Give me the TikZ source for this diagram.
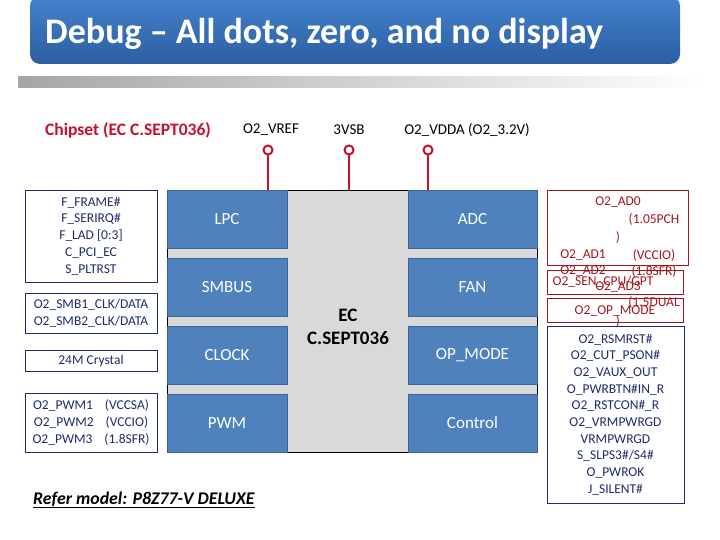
\documentclass[tikz,border=0pt]{standalone}
\usepackage{fontspec}
\setmainfont{Carlito}
\usetikzlibrary{positioning}
\definecolor{bannertop}{HTML}{4382CC}
\definecolor{bannerbot}{HTML}{2C5EA2}
\definecolor{blockblue}{HTML}{4F81BD}
\definecolor{blockedge}{HTML}{3B6396}
\definecolor{chipgray}{HTML}{D9D9D9}
\definecolor{pinred}{HTML}{C8102E}
\definecolor{sigred}{HTML}{A3161C}
\definecolor{navy}{HTML}{1F2A6E}

\begin{document}
\begin{tikzpicture}[
  x=1pt,y=-1pt,
  blk/.style={draw=blockedge,fill=blockblue,text=white,minimum height=58pt,inner sep=0pt,font=\fontsize{17}{20}\selectfont},
  sigbox/.style={draw=navy,text=navy,align=center,inner sep=0pt,minimum width=132pt,font=\fontsize{13.5}{16.7}\selectfont},
  redtxt/.style={text=sigred,inner sep=0pt,font=\fontsize{13.5}{16.7}\selectfont},
  redbox/.style={draw=sigred,inner sep=0pt,minimum width=136pt,minimum height=24pt},
  rail/.style={font=\fontsize{15}{18}\selectfont,inner sep=0pt},
  pin/.style={circle,draw=pinred,line width=2pt,fill=white,minimum size=9pt,inner sep=0pt}
]
  \useasboundingbox (0,0) rectangle (720,540);
  \shade[top color=bannertop,bottom color=bannerbot,rounded corners=10pt] (30,-4) rectangle (680,64);
  \node[anchor=west,text=white,font=\fontsize{36}{40}\selectfont\bfseries,inner sep=0pt] (title) at (45,34) {Debug -- All dots, zero, and no display};
  \shade[left color=gray!70,right color=white] (18,77) rectangle (705,88);

  \node[anchor=west,text=pinred,font=\fontsize{17.5}{20}\selectfont\bfseries,inner sep=0pt] (chipset) at (45,130) {Chipset (EC C.SEPT036)};
  \node[rail] (vrefname) at (271,130) {O2\_VREF};
  \node[rail] (vsbname) at (349,130) {3VSB};
  \node[rail] (vddaname) at (467,130) {O2\_VDDA (O2\_3.2V)};

  \node[draw=black,fill=chipgray,minimum width=370pt,minimum height=262pt,inner sep=0pt] (chip) at (352,321) {};
  \node[align=center,font=\fontsize{19}{23}\selectfont\bfseries] (ecname) at (348,327) {EC\\C.SEPT036};

  \node[blk,minimum width=120pt] (lpc) at (227,219) {LPC};
  \node[blk,minimum width=120pt] (smbus) at (227,287) {SMBUS};
  \node[blk,minimum width=120pt] (clock) at (227,355) {CLOCK};
  \node[blk,minimum width=120pt] (pwm) at (227,423) {PWM};
  \node[blk,minimum width=129pt] (adc) at (472.5,219) {ADC};
  \node[blk,minimum width=129pt] (fan) at (472.5,287) {FAN};
  \node[blk,minimum width=129pt] (opmode) at (472.5,355) {OP\_MODE};
  \node[blk,minimum width=129pt] (control) at (472.5,423) {Control};

  \node[pin] (vref) at (268,150) {};
  \node[pin] (vsb) at (349,150) {};
  \node[pin] (vdda) at (428,150) {};
  \draw[pinred,line width=1.5pt] (vref.south) -- (vref.south |- chip.north);
  \draw[pinred,line width=1.5pt] (vsb.south) -- (vsb.south |- chip.north);
  \draw[pinred,line width=1.5pt] (vdda.south) -- (vdda.south |- chip.north);

  \node[sigbox,minimum height=92pt] (lpcsig) at (91,236) {F\_FRAME\#\\F\_SERIRQ\#\\F\_LAD [0:3]\\C\_PCI\_EC\\S\_PLTRST};
  \node[sigbox,minimum height=40pt] (smbsig) at (91,313) {O2\_SMB1\_CLK/DATA\\O2\_SMB2\_CLK/DATA};
  \node[sigbox,minimum height=21pt] (xtal) at (91,361) {24M Crystal};
  \node[sigbox,minimum height=59pt] (pwmsig) at (91,422.5) {O2\_PWM1\hspace{12pt}(VCCSA)\\O2\_PWM2\hspace{12pt}(VCCIO)\\O2\_PWM3\hspace{12pt}(1.8SFR)};

  \node[redbox,minimum width=141pt,minimum height=75pt] (adcbox) at (617.5,227.5) {};
  \node[redbox] (cpubox) at (615,282) {};
  \node[redbox] (opbox) at (615,310) {};
  \node[redtxt] (ad0) at (618,202) {O2\_AD0};
  \node[redtxt] (ad0v) at (654,220) {(1.05PCH};
  \node[redtxt] (ad0p) at (618,237) {)};
  \node[redtxt] (ad1) at (583,255) {O2\_AD1};
  \node[redtxt] (ad1v) at (654,255) {(VCCIO)};
  \node[redtxt] (ad2) at (583,271) {O2\_AD2};
  \node[redtxt] (ad2v) at (654,271) {(1.8SFR)};
  \node[redtxt] (cpusen) at (603,282) {O2\_SEN\_CPU/GPT};
  \node[redtxt] (ad3) at (618,287) {O2\_AD3};
  \node[redtxt] (ad3v) at (654,303) {(1.5DUAL};
  \node[redtxt] (opsig) at (615,311) {O2\_OP\_MODE};
  \node[redtxt] (ad3p) at (618,321) {)};

  \node[sigbox,minimum width=137pt,minimum height=177pt] (ctrlsig) at (615.5,414.5) {O2\_RSMRST\#\\O2\_CUT\_PSON\#\\O2\_VAUX\_OUT\\O\_PWRBTN\#IN\_R\\O2\_RSTCON\#\_R\\O2\_VRMPWRGD\\VRMPWRGD\\S\_SLPS3\#/S4\#\\O\_PWROK\\J\_SILENT\#};

  \node[anchor=west,inner sep=0pt,font=\fontsize{17.8}{21}\selectfont\bfseries\itshape] (refer) at (33,500) {\underline{Refer model: P8Z77-V DELUXE}};
\end{tikzpicture}
\end{document}
